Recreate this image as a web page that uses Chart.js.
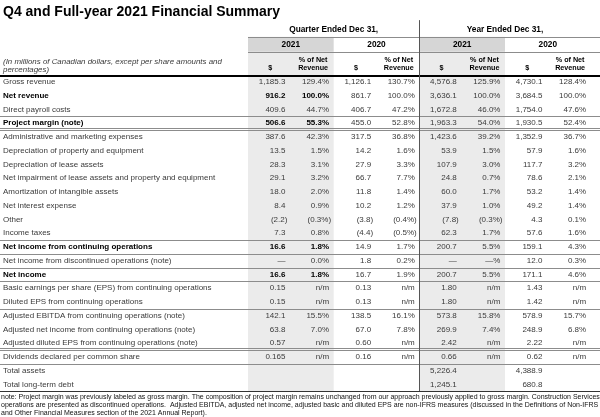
<!DOCTYPE html>
<html>
<head>
<meta charset="utf-8">
<script src="https://cdn.jsdelivr.net/npm/chart.js@4.4.1/dist/chart.umd.min.js"></script>
<style>
  html, body { margin: 0; padding: 0; background: #fff; }
  canvas { display: block; }
</style>
</head>
<body>
<canvas id="summaryTable" width="600" height="417"></canvas>
<script>
// Row labels (table body)
const rowLabels = [
  'Gross revenue',
  'Net revenue',
  'Direct payroll costs',
  'Project margin (note)',
  'Administrative and marketing expenses',
  'Depreciation of property and equipment',
  'Depreciation of lease assets',
  'Net impairment of lease assets and property and equipment',
  'Amortization of intangible assets',
  'Net interest expense',
  'Other',
  'Income taxes',
  'Net income from continuing operations',
  'Net income from discontinued operations (note)',
  'Net income',
  'Basic earnings per share (EPS) from continuing operations',
  'Diluted EPS from continuing operations',
  'Adjusted EBITDA from continuing operations (note)',
  'Adjusted net income from continuing operations (note)',
  'Adjusted diluted EPS from continuing operations (note)',
  'Dividends declared per common share',
  'Total assets',
  'Total long-term debt'
];
const boldRows = [1, 3, 12, 14];

// Column groups
const groupYears = ['2021', '2020', '2021', '2020'];
const periodTitles = ['Quarter Ended Dec 31,', 'Year Ended Dec 31,'];

// Values as printed in the report
const q4Amount2021 = ['1,185.3', '916.2', '409.6', '506.6', '387.6', '13.5', '28.3', '29.1', '18.0', '8.4', '(2.2)', '7.3', '16.6', '—', '16.6', '0.15', '0.15', '142.1', '63.8', '0.57', '0.165', '', ''];
const q4Pct2021 = ['129.4%', '100.0%', '44.7%', '55.3%', '42.3%', '1.5%', '3.1%', '3.2%', '2.0%', '0.9%', '(0.3%)', '0.8%', '1.8%', '0.0%', '1.8%', 'n/m', 'n/m', '15.5%', '7.0%', 'n/m', 'n/m', '', ''];
const q4Amount2020 = ['1,126.1', '861.7', '406.7', '455.0', '317.5', '14.2', '27.9', '66.7', '11.8', '10.2', '(3.8)', '(4.4)', '14.9', '1.8', '16.7', '0.13', '0.13', '138.5', '67.0', '0.60', '0.16', '', ''];
const q4Pct2020 = ['130.7%', '100.0%', '47.2%', '52.8%', '36.8%', '1.6%', '3.3%', '7.7%', '1.4%', '1.2%', '(0.4%)', '(0.5%)', '1.7%', '0.2%', '1.9%', 'n/m', 'n/m', '16.1%', '7.8%', 'n/m', 'n/m', '', ''];
const fyAmount2021 = ['4,576.8', '3,636.1', '1,672.8', '1,963.3', '1,423.6', '53.9', '107.9', '24.8', '60.0', '37.9', '(7.8)', '62.3', '200.7', '—', '200.7', '1.80', '1.80', '573.8', '269.9', '2.42', '0.66', '5,226.4', '1,245.1'];
const fyPct2021 = ['125.9%', '100.0%', '46.0%', '54.0%', '39.2%', '1.5%', '3.0%', '0.7%', '1.7%', '1.0%', '(0.3%)', '1.7%', '5.5%', '—%', '5.5%', 'n/m', 'n/m', '15.8%', '7.4%', 'n/m', 'n/m', '', ''];
const fyAmount2020 = ['4,730.1', '3,684.5', '1,754.0', '1,930.5', '1,352.9', '57.9', '117.7', '78.6', '53.2', '49.2', '4.3', '57.6', '159.1', '12.0', '171.1', '1.43', '1.42', '578.9', '248.9', '2.22', '0.62', '4,388.9', '680.8'];
const fyPct2020 = ['128.4%', '100.0%', '47.6%', '52.4%', '36.7%', '1.6%', '3.2%', '2.1%', '1.4%', '1.4%', '0.1%', '1.6%', '4.3%', '0.3%', '4.6%', 'n/m', 'n/m', '15.7%', '6.8%', 'n/m', 'n/m', '', ''];

const columnGroups = [
  [q4Amount2021, q4Pct2021],
  [q4Amount2020, q4Pct2020],
  [fyAmount2021, fyPct2021],
  [fyAmount2020, fyPct2020]
];

const titleText = 'Q4 and Full-year 2021 Financial Summary';
const unitsNote = ['(In millions of Canadian dollars, except per share amounts and', 'percentages)'];
const noteLines = [
  'note: Project margin was previously labeled as gross margin. The composition of project margin remains unchanged from our approach previously applied to gross margin. Construction Services',
  'operations are presented as discontinued operations.  Adjusted EBITDA, adjusted net income, adjusted basic and diluted EPS are non-IFRS measures (discussed in the Definitions of Non-IFRS',
  'and Other Financial Measures section of the 2021 Annual Report).'
];

// rules between rows: [row boundary, style]
const rowRules = [[2.5, 'single'], [3.5, 'double'], [11.5, 'single'], [12.5, 'single'], [13.5, 'single'], [14.5, 'single'], [16.5, 'single'], [19.5, 'double'], [20.5, 'single']];

const FONT = '"Liberation Sans", Arial, sans-serif';
const SHADE = '#ebebeb';
const SHADE_HEAD = '#d6d6d6';
const RULE = '#8c8c8c';
const TEXT = '#3a3a3a';

// header positions in row units
const HEAD = {
  title: -5.1,
  period: -3.8,
  periodRule: -3.28,
  yearText: -2.68,
  yearRule: -2.2,
  pctLine1: -1.6,
  pctLine2: -1.02,
  unitsLine1: -1.47,
  unitsLine2: -0.9,
  headRule: -0.46,
  footRule: 22.48,
  note1: 22.9,
  note2: 23.5,
  note3: 24.08
};

const tablePlugin = {
  id: 'tablePlugin',
  beforeDraw(chart) {
    const { ctx, scales: { x, y } } = chart;
    ctx.save();
    // shaded 2021 columns
    [0, 2].forEach(g => {
      const x0 = x.getPixelForValue(g);
      const x1 = x.getPixelForValue(g + 1);
      ctx.fillStyle = SHADE;
      ctx.fillRect(x0, y.getPixelForValue(HEAD.yearRule), x1 - x0, y.getPixelForValue(HEAD.footRule) - y.getPixelForValue(HEAD.yearRule));
      ctx.fillStyle = SHADE_HEAD;
      ctx.fillRect(x0, y.getPixelForValue(HEAD.periodRule), x1 - x0, y.getPixelForValue(HEAD.yearRule) - y.getPixelForValue(HEAD.periodRule));
    });
    ctx.restore();
  },
  afterDraw(chart) {
    const { ctx, scales: { x, y } } = chart;
    const left = x.getPixelForValue(x.min);
    const right = x.getPixelForValue(x.max);
    const hline = (v, x0, x1, color, width) => {
      const py = Math.round(y.getPixelForValue(v)) + (width % 2 ? 0.5 : 0);
      ctx.strokeStyle = color;
      ctx.lineWidth = width;
      ctx.beginPath();
      ctx.moveTo(x0, py);
      ctx.lineTo(x1, py);
      ctx.stroke();
    };
    ctx.save();
    ctx.textBaseline = 'middle';

    // title
    ctx.fillStyle = '#000';
    ctx.font = 'bold 14px ' + FONT;
    ctx.textAlign = 'left';
    ctx.fillText(titleText, left + 3, y.getPixelForValue(HEAD.title));

    // header rules
    const gStart = x.getPixelForValue(0);
    hline(HEAD.periodRule, gStart, right, RULE, 1);
    hline(HEAD.yearRule, gStart, right, RULE, 1);
    hline(HEAD.headRule, left, right, '#000', 2);

    // period titles
    ctx.font = 'bold 8.3px ' + FONT;
    ctx.textAlign = 'center';
    ctx.fillStyle = '#000';
    periodTitles.forEach((t, i) => {
      ctx.fillText(t, x.getPixelForValue(i * 2 + 1), y.getPixelForValue(HEAD.period));
    });
    groupYears.forEach((t, g) => {
      ctx.fillText(t, x.getPixelForValue(g + 0.5), y.getPixelForValue(HEAD.yearText));
    });
    ctx.font = 'bold 7.2px ' + FONT;
    groupYears.forEach((t, g) => {
      ctx.fillText('$', x.getPixelForValue(g + 0.26), y.getPixelForValue(HEAD.pctLine2));
      ctx.fillText('% of Net', x.getPixelForValue(g + 0.76), y.getPixelForValue(HEAD.pctLine1));
      ctx.fillText('Revenue', x.getPixelForValue(g + 0.76), y.getPixelForValue(HEAD.pctLine2));
    });

    // units note
    ctx.font = 'italic 7.9px ' + FONT;
    ctx.textAlign = 'left';
    ctx.fillStyle = TEXT;
    ctx.fillText(unitsNote[0], left + 3, y.getPixelForValue(HEAD.unitsLine1));
    ctx.fillText(unitsNote[1], left + 3, y.getPixelForValue(HEAD.unitsLine2));

    // body rows
    rowLabels.forEach((label, r) => {
      const py = y.getPixelForValue(r);
      const bold = boldRows.includes(r);
      ctx.font = (bold ? 'bold ' : '') + '8px ' + FONT;
      ctx.fillStyle = bold ? '#000' : TEXT;
      ctx.textAlign = 'left';
      ctx.fillText(label, left + 3, py);
      ctx.textAlign = 'right';
      columnGroups.forEach(([amounts, pcts], g) => {
        const groupBold = bold && g === 0;
        ctx.font = (groupBold ? 'bold ' : '') + '8px ' + FONT;
        ctx.fillStyle = groupBold ? '#000' : TEXT;
        [[amounts[r], 0.46], [pcts[r], 0.97]].forEach(([txt, off]) => {
          if (!txt) return;
          const shift = txt.endsWith(')') ? 0 : -2;
          ctx.fillText(txt, x.getPixelForValue(g + off) + shift, py);
        });
      });
    });

    // row rules
    rowRules.forEach(([v, style]) => {
      if (style === 'double') {
        const py = Math.round(y.getPixelForValue(v));
        ctx.strokeStyle = RULE;
        ctx.lineWidth = 1;
        [py - 1.5, py + 0.5].forEach(p => {
          ctx.beginPath();
          ctx.moveTo(left, p);
          ctx.lineTo(right, p);
          ctx.stroke();
        });
      } else {
        hline(v, left, right, RULE, 1);
      }
    });
    hline(HEAD.footRule, left, right, '#333', 1);

    // vertical divider between quarter and year
    const vx = Math.round(x.getPixelForValue(2)) + 0.5;
    ctx.strokeStyle = '#555';
    ctx.lineWidth = 1;
    ctx.beginPath();
    ctx.moveTo(vx, y.getPixelForValue(-4.5));
    ctx.lineTo(vx, y.getPixelForValue(HEAD.footRule));
    ctx.stroke();

    // footnote
    ctx.font = '7px ' + FONT;
    ctx.textAlign = 'left';
    ctx.fillStyle = '#111';
    noteLines.forEach((t, i) => {
      ctx.fillText(t, left + 1, y.getPixelForValue([HEAD.note1, HEAD.note2, HEAD.note3][i]));
    });
    ctx.restore();
  }
};

// x: one unit per column group, label column to the left of 0
const UNIT = 85.67;
const X_MIN = -248 / UNIT;
const X_MAX = (600 - 248) / UNIT;
// y: one unit per row, Gross revenue row at 0
const ROW = 13.75;
const Y_MIN = -82 / ROW;
const Y_MAX = (417 - 82) / ROW;

new Chart(document.getElementById('summaryTable'), {
  type: 'scatter',
  data: { datasets: [] },
  options: {
    responsive: false,
    animation: false,
    devicePixelRatio: 1,
    layout: { padding: 0 },
    plugins: {
      legend: { display: false },
      tooltip: { enabled: false },
      title: { display: false }
    },
    scales: {
      x: { type: 'linear', min: X_MIN, max: X_MAX, display: false },
      y: { type: 'linear', min: Y_MIN, max: Y_MAX, reverse: true, display: false }
    }
  },
  plugins: [tablePlugin]
});
</script>
</body>
</html>
